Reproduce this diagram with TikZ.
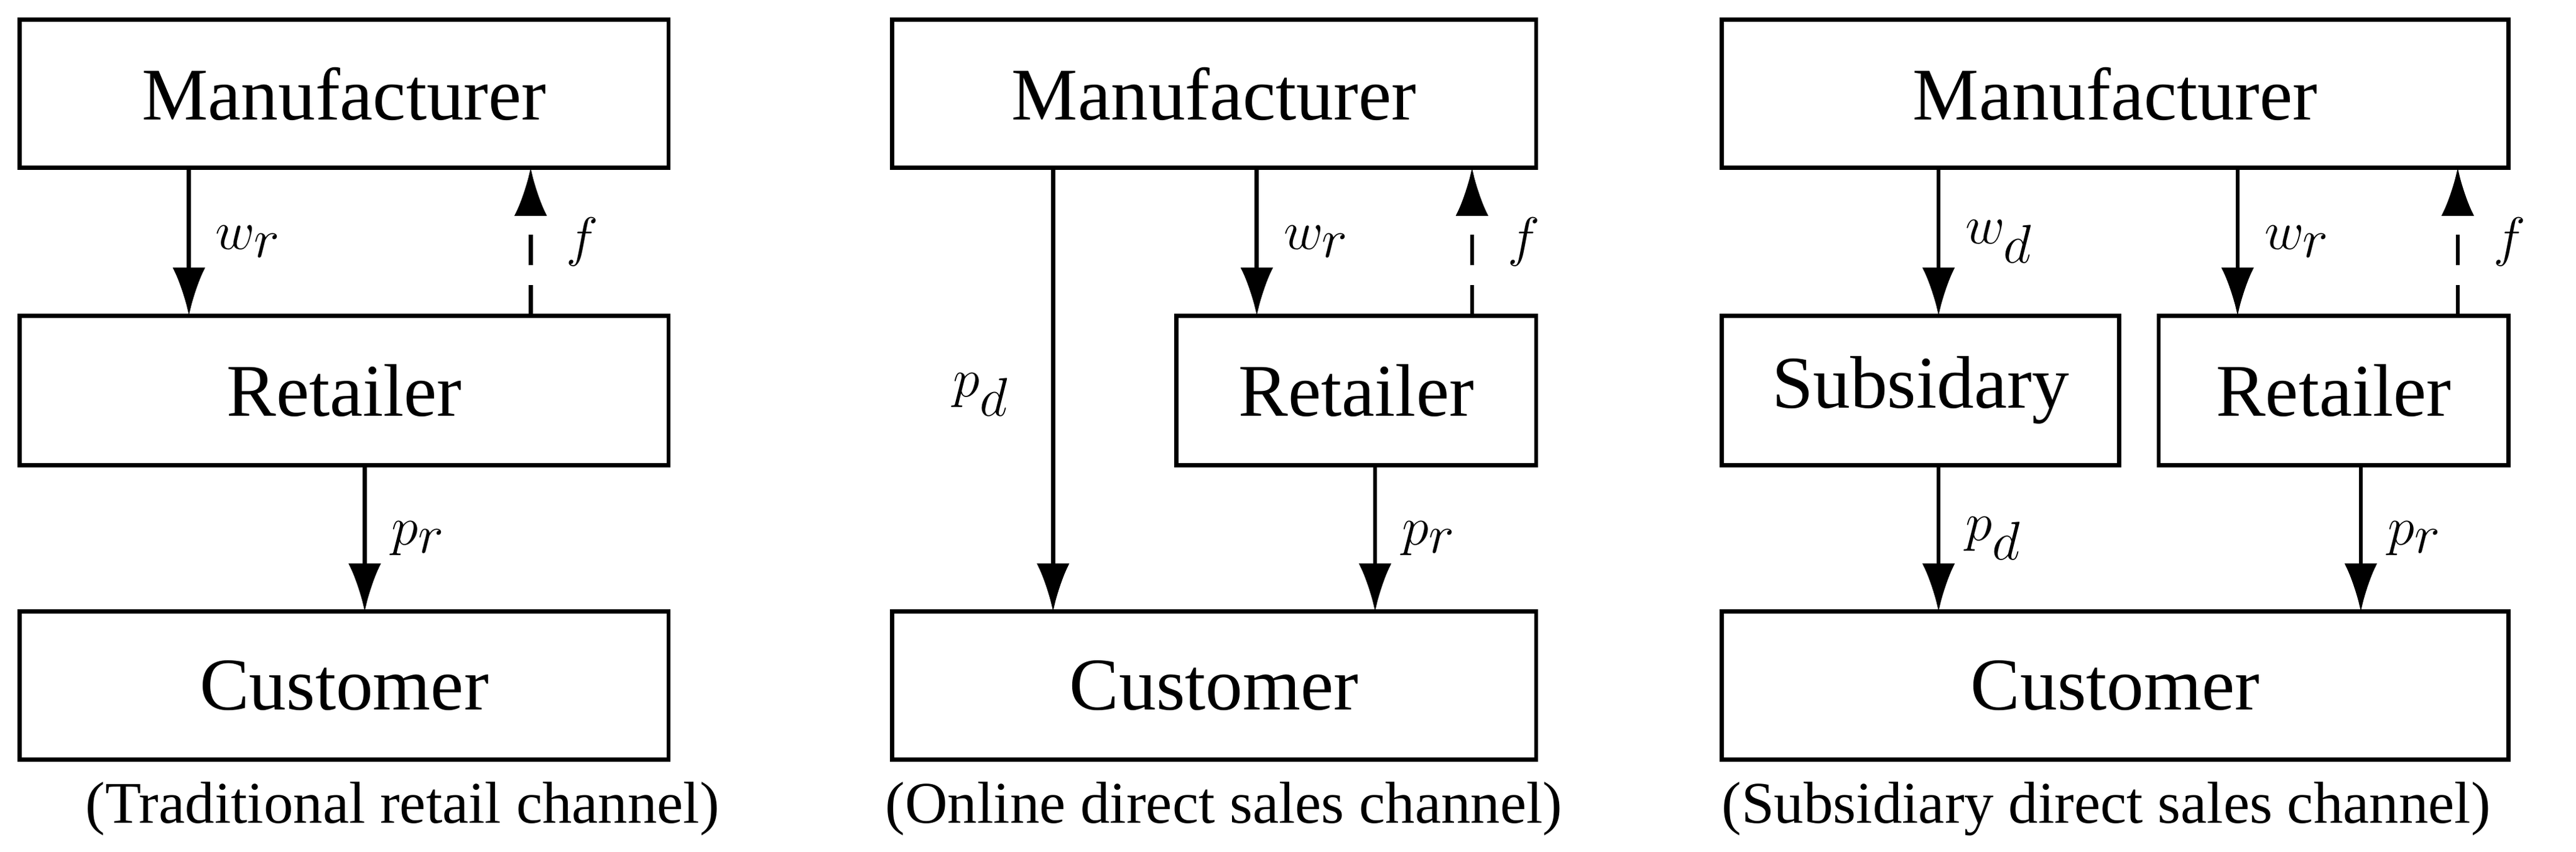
\documentclass[tikz,border=0pt]{standalone}
\usepackage{fontspec}
\setmainfont{Liberation Serif}
\usetikzlibrary{arrows.meta}
\begin{document}
\begin{tikzpicture}[x=0.02642cm,y=-0.02642cm,
 bx/.style={draw,line width=1.9pt,font=\fontsize{34}{40}\selectfont},
 ar/.style={line width=1.9pt,-{Latex[length=22pt,width=15pt]}},
 da/.style={ar,dash pattern=on 14pt off 9pt},
 lb/.style={font=\fontsize{36}{40}\selectfont},
 captxt/.style={font=\fontsize{27}{32}\selectfont}]
\useasboundingbox (0,0) rectangle (1568,518);
% panel 1
\node[bx,minimum width=395*0.02642cm,minimum height=90*0.02642cm] (m1) at (209.5,57) {Manufacturer};
\node[bx,minimum width=395*0.02642cm,minimum height=91*0.02642cm] (r1) at (209.5,237.5) {Retailer};
\node[bx,minimum width=395*0.02642cm,minimum height=90*0.02642cm] (c1) at (209.5,417) {Customer};
\coordinate (a1) at (115,102); \coordinate (a1e) at (115,192);
\coordinate (f1) at (323,192); \coordinate (f1e) at (323,102);
\coordinate (p1) at (222,283); \coordinate (p1e) at (222,372);
\draw[ar] (a1) -- (a1e) node[lb,midway,right=8pt] (l1) {$w_r$};
\draw[da] (f1) -- (f1e) node[lb,midway,right=12pt] (l2) {$f$};
\draw[ar] (p1) -- (p1e) node[lb,midway,right=8pt] (l3) {$p_r$};
\node[captxt] (t1) at (245,492) {(Traditional retail channel)};
% panel 2
\node[bx,minimum width=392*0.02642cm,minimum height=90*0.02642cm] (m2) at (739,57) {Manufacturer};
\node[bx,minimum width=219*0.02642cm,minimum height=91*0.02642cm] (r2) at (825.5,237.5) {Retailer};
\node[bx,minimum width=392*0.02642cm,minimum height=90*0.02642cm] (c2) at (739,417) {Customer};
\coordinate (d2) at (641,102); \coordinate (d2e) at (641,372);
\coordinate (a2) at (765,102); \coordinate (a2e) at (765,192);
\coordinate (f2) at (896,192); \coordinate (f2e) at (896,102);
\coordinate (p2) at (837,283); \coordinate (p2e) at (837,372);
\draw[ar] (d2) -- (d2e);
\node[lb] (l4) at (597,240) {$p_d$};
\draw[ar] (a2) -- (a2e) node[lb,midway,right=8pt] (l5) {$w_r$};
\draw[da] (f2) -- (f2e) node[lb,midway,right=12pt] (l6) {$f$};
\draw[ar] (p2) -- (p2e) node[lb,midway,right=8pt] (l7) {$p_r$};
\node[captxt] (t2) at (745,492) {(Online direct sales channel)};
% panel 3
\node[bx,minimum width=479*0.02642cm,minimum height=90*0.02642cm] (m3) at (1287.5,57) {Manufacturer};
\node[bx,minimum width=242*0.02642cm,minimum height=91*0.02642cm] (s3) at (1169,237.5) {Subsidary};
\node[bx,minimum width=213*0.02642cm,minimum height=91*0.02642cm] (r3) at (1420.5,237.5) {Retailer};
\node[bx,minimum width=479*0.02642cm,minimum height=90*0.02642cm] (c3) at (1287.5,417) {Customer};
\coordinate (a3) at (1180,102); \coordinate (a3e) at (1180,192);
\coordinate (b3) at (1362,102); \coordinate (b3e) at (1362,192);
\coordinate (f3) at (1496,192); \coordinate (f3e) at (1496,102);
\coordinate (q3) at (1180,283); \coordinate (q3e) at (1180,372);
\coordinate (p3) at (1437,283); \coordinate (p3e) at (1437,372);
\draw[ar] (a3) -- (a3e) node[lb,midway,right=8pt] (l8) {$w_d$};
\draw[ar] (b3) -- (b3e) node[lb,midway,right=8pt] (l9) {$w_r$};
\draw[da] (f3) -- (f3e) node[lb,midway,right=12pt] (l10) {$f$};
\draw[ar] (q3) -- (q3e) node[lb,midway,right=8pt] (l11) {$p_d$};
\draw[ar] (p3) -- (p3e) node[lb,midway,right=8pt] (l12) {$p_r$};
\node[captxt] (t3) at (1282,492) {(Subsidiary direct sales channel)};
\end{tikzpicture}
\end{document}
